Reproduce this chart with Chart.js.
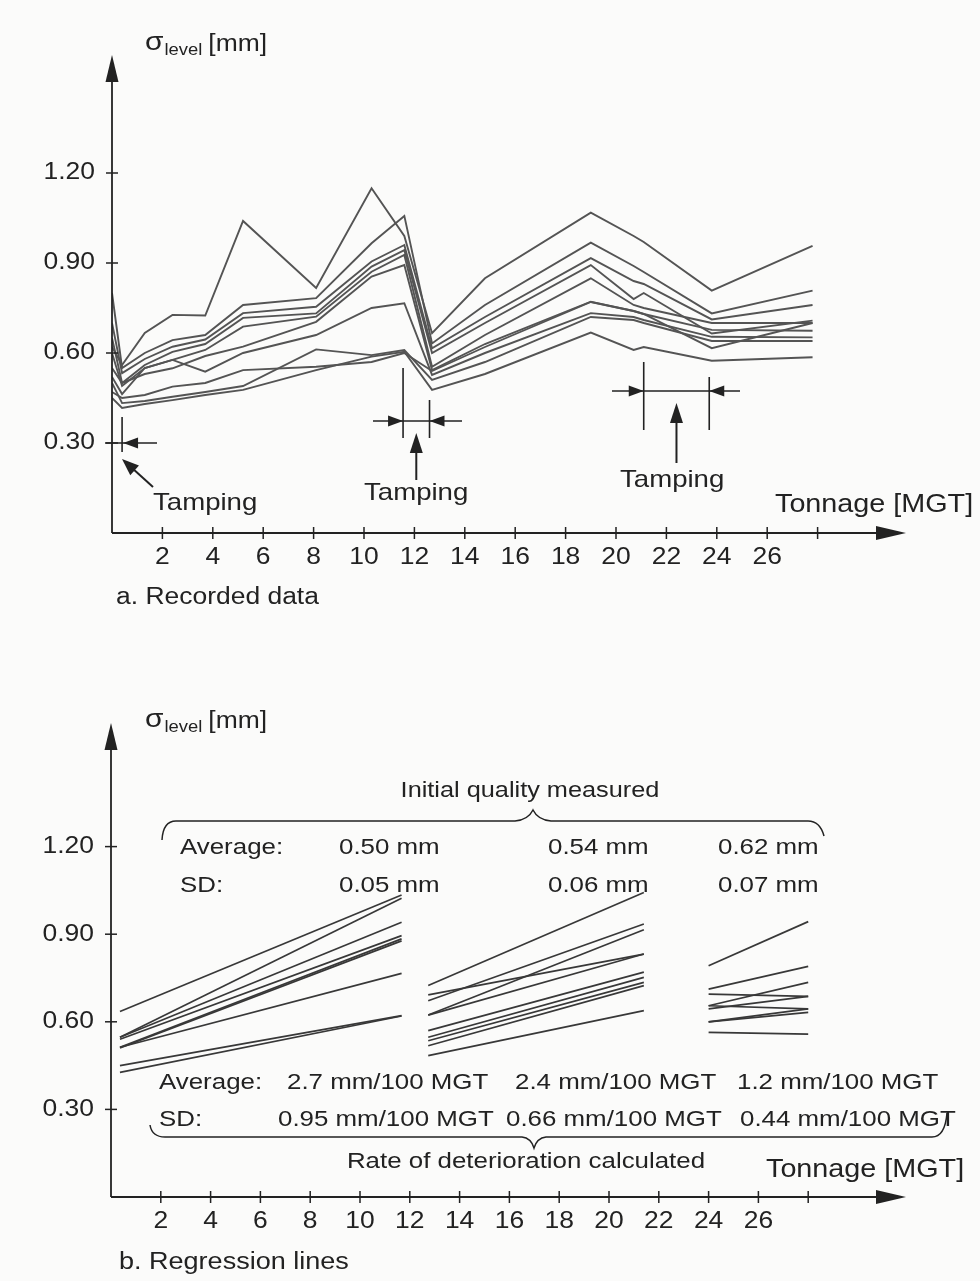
<!DOCTYPE html>
<html>
<head>
<meta charset="utf-8">
<script src="https://cdn.jsdelivr.net/npm/chart.js@4.4.1/dist/chart.umd.min.js"></script>
<style>
  html, body { margin: 0; padding: 0; background: #fbfbfa; }
  canvas { position: absolute; left: 0; }
  #recorded { top: 0; }
  #regression { top: 640px; }
</style>
</head>
<body>
<canvas id="recorded" width="980" height="640"></canvas>
<canvas id="regression" width="980" height="641"></canvas>
<script>
// tonnage where the sections were recorded [MGT]
var tonnage = [0, 0.4, 1.3, 2.4, 3.7, 5.2, 8.1, 10.3, 11.6, 12.7, 14.8, 19, 20.7, 21.1, 23.8, 27.8];

// recorded sigma level of each section [mm]
var section1  = [0.62, 0.56, 0.667, 0.727, 0.725, 1.04, 0.817, 1.149, 0.99, 0.666, 0.849, 1.068, 0.99, 0.97, 0.808, 0.957];
var section2  = [0.80, 0.55, 0.60, 0.643, 0.66, 0.76, 0.783, 0.966, 1.057, 0.632, 0.76, 0.968, 0.89, 0.87, 0.732, 0.808];
var section3  = [0.70, 0.533, 0.58, 0.621, 0.645, 0.733, 0.754, 0.905, 0.96, 0.616, 0.72, 0.916, 0.84, 0.83, 0.712, 0.76];
var section4  = [0.65, 0.50, 0.56, 0.604, 0.63, 0.717, 0.732, 0.888, 0.943, 0.60, 0.70, 0.893, 0.78, 0.80, 0.665, 0.708];
var section5  = [0.60, 0.49, 0.55, 0.577, 0.61, 0.688, 0.721, 0.871, 0.927, 0.554, 0.66, 0.849, 0.76, 0.75, 0.70, 0.70];
var section6  = [0.55, 0.50, 0.53, 0.549, 0.59, 0.621, 0.704, 0.855, 0.893, 0.543, 0.63, 0.771, 0.74, 0.73, 0.677, 0.674];
var section7  = [0.52, 0.463, 0.55, 0.577, 0.538, 0.60, 0.66, 0.75, 0.766, 0.527, 0.60, 0.733, 0.72, 0.71, 0.654, 0.652];
var section8  = [0.50, 0.433, 0.44, 0.454, 0.47, 0.49, 0.612, 0.593, 0.61, 0.51, 0.57, 0.72, 0.71, 0.70, 0.64, 0.64];
var section9  = [0.45, 0.417, 0.43, 0.443, 0.46, 0.477, 0.543, 0.588, 0.604, 0.477, 0.53, 0.668, 0.61, 0.62, 0.574, 0.586];
var section10 = [0.47, 0.45, 0.46, 0.488, 0.50, 0.543, 0.554, 0.57, 0.60, 0.54, 0.62, 0.77, 0.74, 0.73, 0.616, 0.70];
var sections = [section1, section2, section3, section4, section5, section6, section7, section8, section9, section10];

// tamping periods [MGT]
var tampings = [[0.4, 0.4], [11.55, 12.6], [21.1, 23.7]];

// regression lines: tonnage span and level at both ends [mm]
var reg1Span = [0.36, 11.67];
var reg1From = [0.635, 0.547, 0.547, 0.54, 0.513, 0.51, 0.513, 0.45, 0.427];
var reg1To   = [1.034, 1.023, 0.941, 0.895, 0.884, 0.877, 0.766, 0.621, 0.62];
var reg2Span = [12.74, 21.4];
var reg2From = [0.724, 0.692, 0.672, 0.623, 0.623, 0.57, 0.547, 0.535, 0.518, 0.484];
var reg2To   = [1.043, 0.832, 0.935, 0.915, 0.832, 0.77, 0.752, 0.735, 0.724, 0.638];
var reg3Span = [24.0, 28.0];
var reg3From = [0.792, 0.712, 0.655, 0.695, 0.644, 0.655, 0.60, 0.60, 0.564];
var reg3To   = [0.943, 0.79, 0.735, 0.687, 0.687, 0.644, 0.644, 0.632, 0.558];

var initialAverage = ['0.50 mm', '0.54 mm', '0.62 mm'];
var initialSD      = ['0.05 mm', '0.06 mm', '0.07 mm'];
var rateAverage    = ['2.7 mm/100 MGT', '2.4 mm/100 MGT', '1.2 mm/100 MGT'];
var rateSD         = ['0.95 mm/100 MGT', '0.66 mm/100 MGT', '0.44 mm/100 MGT'];

var xTicks = [2, 4, 6, 8, 10, 12, 14, 16, 18, 20, 22, 24, 26, 28];
var xTickLabels = ['2', '4', '6', '8', '10', '12', '14', '16', '18', '20', '22', '24', '26', ''];
var yTicks = [0.3, 0.6, 0.9, 1.2];
var yTickLabels = ['0.30', '0.60', '0.90', '1.20'];

var SX = 1.15;   // the scan is stretched sideways
var INK = '#222222';
var FONT = '"Liberation Sans", Arial, Helvetica, sans-serif';

function text(ctx, s, x, y, size, align) {
  ctx.save();
  ctx.font = size + 'px ' + FONT;
  ctx.fillStyle = INK;
  ctx.textBaseline = 'middle';
  ctx.textAlign = 'left';
  var w = ctx.measureText(s).width * SX;
  if (align === 'center') x -= w / 2;
  if (align === 'right') x -= w;
  ctx.translate(x, y);
  ctx.scale(SX, 1);
  ctx.fillText(s, 0, 0);
  ctx.restore();
  return w;
}

function line(ctx, x1, y1, x2, y2, w) {
  ctx.save();
  ctx.strokeStyle = INK;
  ctx.lineWidth = w || 1.6;
  ctx.beginPath();
  ctx.moveTo(x1, y1);
  ctx.lineTo(x2, y2);
  ctx.stroke();
  ctx.restore();
}

function head(ctx, x1, y1, x2, y2, len, half) {
  var a = Math.atan2(y2 - y1, x2 - x1);
  var bx = x2 - len * Math.cos(a), by = y2 - len * Math.sin(a);
  ctx.save();
  ctx.fillStyle = INK;
  ctx.beginPath();
  ctx.moveTo(x2, y2);
  ctx.lineTo(bx + half * Math.sin(a), by - half * Math.cos(a));
  ctx.lineTo(bx - half * Math.sin(a), by + half * Math.cos(a));
  ctx.closePath();
  ctx.fill();
  ctx.restore();
}

function arrow(ctx, x1, y1, x2, y2, len, half, w) {
  var a = Math.atan2(y2 - y1, x2 - x1);
  line(ctx, x1, y1, x2 - (len - 2) * Math.cos(a), y2 - (len - 2) * Math.sin(a), w);
  head(ctx, x1, y1, x2, y2, len, half);
}

function sigmaLabel(ctx, x, y) {
  var w = text(ctx, 'σ', x, y - 2, 26);
  var w2 = text(ctx, 'level', x + w + 1, y + 6, 16);
  text(ctx, '[mm]', x + w + w2 + 7, y, 23);
}

function drawFrame(chart) {
  var ctx = chart.ctx, xs = chart.scales.x, ys = chart.scales.y;
  var x0 = xs.getPixelForValue(0), y0 = ys.getPixelForValue(0);
  arrow(ctx, x0, y0, xs.right, y0, 30, 7, 1.8);
  arrow(ctx, x0, y0, x0, ys.top, 27, 6.5, 1.8);
  xTicks.forEach(function (t, i) {
    var px = xs.getPixelForValue(t);
    line(ctx, px, y0 - 6, px, y0 + 6, 1.5);
    text(ctx, xTickLabels[i], px, y0 + 25, 23, 'center');
  });
  yTicks.forEach(function (v, i) {
    var py = ys.getPixelForValue(v);
    line(ctx, x0 - 6, py, x0 + 6, py, 1.5);
    text(ctx, yTickLabels[i], x0 - 17, py, 23, 'right');
  });
}

var paper = {
  id: 'paper',
  beforeDraw: function (chart) {
    var ctx = chart.ctx;
    ctx.save();
    ctx.fillStyle = '#fbfbfa';
    ctx.fillRect(0, 0, chart.width, chart.height);
    ctx.restore();
  }
};

var recordedNotes = {
  id: 'recordedNotes',
  afterDraw: function (chart) {
    var ctx = chart.ctx, xs = chart.scales.x, ys = chart.scales.y;
    drawFrame(chart);
    sigmaLabel(ctx, 145, 45);

    // first tamping
    var a = xs.getPixelForValue(tampings[0][0]);
    var py = ys.getPixelForValue(0.3);
    line(ctx, a, 417, a, 452);
    line(ctx, 105, py, 157, py);
    head(ctx, 157, py, a + 1, py, 15, 5.5);
    arrow(ctx, 153, 487, 122, 459, 17, 6.5, 2);
    text(ctx, 'Tamping', 153, 503, 24);

    // second tamping
    a = xs.getPixelForValue(tampings[1][0]);
    var b = xs.getPixelForValue(tampings[1][1]);
    line(ctx, a, 368, a, 438);
    line(ctx, b, 400, b, 438);
    line(ctx, 373, 421, 462, 421);
    head(ctx, 373, 421, a, 421, 15, 5.5);
    head(ctx, 462, 421, b, 421, 15, 5.5);
    arrow(ctx, (a + b) / 2, 480, (a + b) / 2, 433, 20, 6.5, 2);
    text(ctx, 'Tamping', 364, 493, 24);

    // third tamping
    a = xs.getPixelForValue(tampings[2][0]);
    b = xs.getPixelForValue(tampings[2][1]);
    line(ctx, a, 362, a, 430);
    line(ctx, b, 377, b, 430);
    line(ctx, 612, 391, 740, 391);
    head(ctx, 612, 391, a, 391, 15, 5.5);
    head(ctx, 740, 391, b, 391, 15, 5.5);
    arrow(ctx, (a + b) / 2, 463, (a + b) / 2, 403, 20, 6.5, 2);
    text(ctx, 'Tamping', 620, 480, 24);

    text(ctx, 'Tonnage [MGT]', 775, 505, 25);
    text(ctx, 'a. Recorded data', 116, 598, 23);
  }
};

function brace(ctx, pts) {
  ctx.save();
  ctx.strokeStyle = INK;
  ctx.lineWidth = 1.5;
  ctx.beginPath();
  ctx.moveTo(pts[0][0], pts[0][1]);
  for (var i = 1; i < pts.length; i += 2) {
    ctx.quadraticCurveTo(pts[i][0], pts[i][1], pts[i + 1][0], pts[i + 1][1]);
  }
  ctx.stroke();
  ctx.restore();
}

var regressionNotes = {
  id: 'regressionNotes',
  afterDraw: function (chart) {
    var ctx = chart.ctx;
    drawFrame(chart);
    sigmaLabel(ctx, 145, 82);

    text(ctx, 'Initial quality measured', 530, 151, 22, 'center');
    brace(ctx, [[162, 200], [163, 181], [176, 181], [346, 181], [515, 181],
                [528, 180], [533, 170], [538, 180], [551, 181], [680, 181],
                [808, 181], [820, 181], [824, 196]]);
    var cols = [339, 548, 718];
    text(ctx, 'Average:', 180, 208, 22.5);
    text(ctx, 'SD:', 180, 246, 22.5);
    initialAverage.forEach(function (s, i) { text(ctx, s, cols[i], 208, 22.5); });
    initialSD.forEach(function (s, i) { text(ctx, s, cols[i], 246, 22.5); });

    var avgCols = [287, 515, 737];
    var sdCols = [278, 506, 740];
    text(ctx, 'Average:', 159, 443, 22.5);
    text(ctx, 'SD:', 159, 480, 22.5);
    rateAverage.forEach(function (s, i) { text(ctx, s, avgCols[i], 443, 22.5); });
    rateSD.forEach(function (s, i) { text(ctx, s, sdCols[i], 480, 22.5); });
    brace(ctx, [[150, 485], [152, 497], [165, 497], [344, 497], [522, 497],
                [531, 498], [534, 508], [537, 498], [546, 497], [740, 497],
                [932, 497], [945, 497], [947, 473]]);
    text(ctx, 'Rate of deterioration calculated', 526, 522, 22.5, 'center');

    text(ctx, 'Tonnage [MGT]', 766, 530, 25);
    text(ctx, 'b. Regression lines', 119, 623, 23.5);
  }
};

var recordedSets = sections.map(function (s) {
  return {
    data: tonnage.map(function (t, i) { return { x: t, y: s[i] }; }),
    borderColor: '#545454',
    borderWidth: 1.9,
    pointRadius: 0,
    tension: 0,
    fill: false
  };
});

var regressionSets = [];
[[reg1Span, reg1From, reg1To], [reg2Span, reg2From, reg2To], [reg3Span, reg3From, reg3To]].forEach(function (g) {
  g[1].forEach(function (v, i) {
    regressionSets.push({
      data: [{ x: g[0][0], y: v }, { x: g[0][1], y: g[2][i] }],
      borderColor: '#383838',
      borderWidth: 1.7,
      pointRadius: 0,
      tension: 0,
      fill: false
    });
  });
});

function options(xMax, yMax, pad) {
  return {
    responsive: false,
    animation: false,
    devicePixelRatio: 1,
    layout: { padding: pad },
    plugins: { legend: { display: false }, tooltip: { enabled: false } },
    scales: {
      x: { type: 'linear', min: 0, max: xMax, display: false },
      y: { type: 'linear', min: 0, max: yMax, display: false }
    }
  };
}

new Chart(document.getElementById('recorded').getContext('2d'), {
  type: 'line',
  data: { datasets: recordedSets },
  options: options(794 / 25.2, 478 / 300, { left: 112, right: 74, top: 55, bottom: 107 }),
  plugins: [paper, recordedNotes]
});

new Chart(document.getElementById('regression').getContext('2d'), {
  type: 'line',
  data: { datasets: regressionSets },
  options: options(795 / 24.9, 474 / 292, { left: 111, right: 74, top: 83, bottom: 84 }),
  plugins: [paper, regressionNotes]
});
</script>
</body>
</html>
